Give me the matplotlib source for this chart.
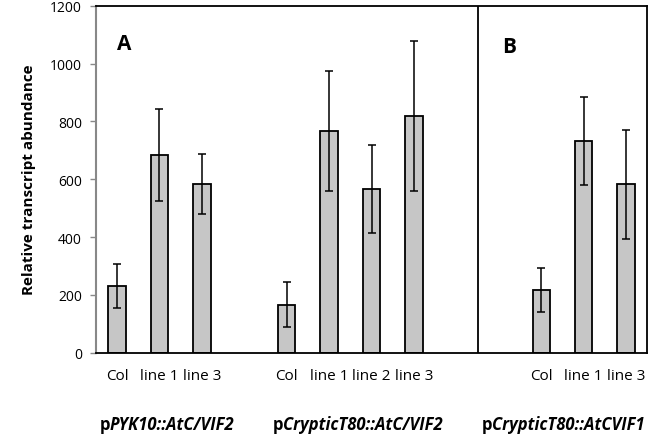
import matplotlib
matplotlib.use("Agg")
import matplotlib.pyplot as plt
import numpy as np

plt.rcParams['font.family'] = ['Open Sans', 'DejaVu Sans']

categories = ["Col", "line 1", "line 3", "", "Col", "line 1", "line 2", "line 3",
              "", "", "Col", "line 1", "line 3"]
values = [230, 684, 583, np.nan, 166, 766, 567, 818, np.nan, np.nan, 217, 732, 585]
err_low = [77, 161, 105, 0, 76, 207, 153, 260, 0, 0, 76, 152, 192]
err_high = [76, 158, 103, 0, 77, 209, 151, 260, 0, 0, 75, 151, 186]
yticks = [0, 200, 400, 600, 800, 1000, 1200]
group_prefix = ["p", "p", "p"]
group_rest = ["PYK10::AtC/VIF2", "CrypticT80::AtC/VIF2", "CrypticT80::AtCVIF1"]
group_left = [-0.41, 3.67, 8.59]
panel_labels = ["A", "B"]

fig = plt.figure(figsize=(6.58, 4.39), dpi=100)
ax = fig.add_axes([0.1455, 0.1943, 0.9837 - 0.1455, 0.9847 - 0.1943])

x = np.arange(len(categories))
mask = ~np.isnan(values)
xv = x[mask]
vv = np.array(values)[mask]
el = np.array(err_low)[mask]
eh = np.array(err_high)[mask]
ax.bar(xv, vv, width=0.41, color="#c6c6c6", edgecolor="black", linewidth=1.3, zorder=2)
ax.errorbar(xv, vv, yerr=[el, eh], fmt="none", ecolor="black", elinewidth=1.1,
            capsize=2.7, capthick=1.1, zorder=3)

ax.set_xlim(-0.5, 12.5)
ax.set_ylim(0, 1200)
ax.set_yticks(yticks)
ax.set_yticklabels([str(t) for t in yticks], fontsize=10)
ax.tick_params(axis='y', length=4, color="#888888", width=1, pad=6)
ax.set_xticks(xv)
ax.set_xticklabels([categories[i] for i in xv], fontsize=11)
ax.tick_params(axis='x', length=0, pad=11)

ax.spines['left'].set_color("#888888")
ax.spines['left'].set_linewidth(1.5)
for s in ['top', 'right', 'bottom']:
    ax.spines[s].set_color("black")
    ax.spines[s].set_linewidth(1.3)
ax.axvline(8.5, color="black", linewidth=1.3)

ax.set_ylabel("Relative transcript abundance", fontsize=11, fontweight="bold", labelpad=10)

ax.text(0.16, 1070, panel_labels[0], fontsize=15, fontweight="bold", ha="center", va="center")
ax.text(9.25, 1060, panel_labels[1], fontsize=15, fontweight="bold", ha="center", va="center")

trans = ax.get_xaxis_transform()
for gl, pre, rest in zip(group_left, group_prefix, group_rest):
    t = ax.text(gl, -0.205, pre, transform=trans, fontsize=12, fontweight="bold",
                ha="left", va="center")
    ax.annotate(rest, xy=(1, 0), xycoords=t, ha="left", va="bottom",
                fontsize=12, fontweight="bold", fontstyle="italic")

fig.savefig("out.png", dpi=100)
